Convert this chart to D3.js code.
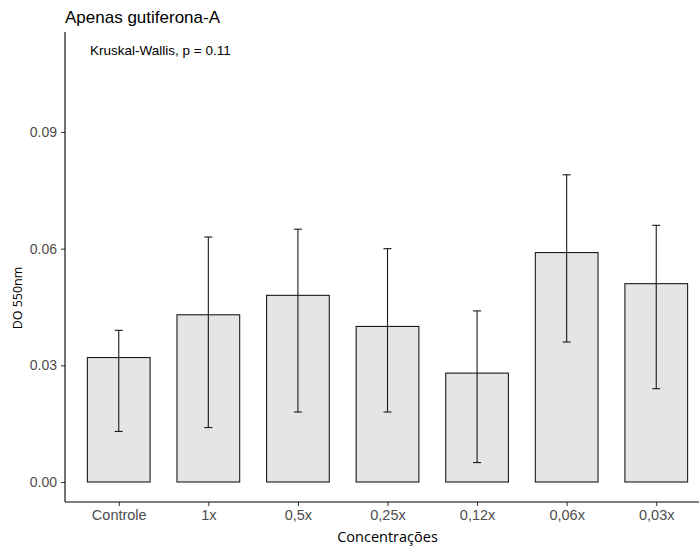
<!DOCTYPE html>
<html>
<head>
<meta charset="utf-8">
<script src="https://cdn.jsdelivr.net/npm/d3@7/dist/d3.min.js"></script>
<style>
  html, body { margin: 0; padding: 0; background: #ffffff; }
  svg { display: block; font-family: "Liberation Sans", Arial, sans-serif; }
</style>
</head>
<body>
<svg id="chart" width="699" height="548"></svg>
<script>
const categories = ["Controle", "1x", "0,5x", "0,25x", "0,12x", "0,06x", "0,03x"];
const means = [0.032, 0.043, 0.048, 0.040, 0.028, 0.059, 0.051];
const lower = [0.013, 0.014, 0.018, 0.018, 0.005, 0.036, 0.024];
const upper = [0.039, 0.063, 0.065, 0.060, 0.044, 0.079, 0.066];
const yTicks = [0, 0.03, 0.06, 0.09];
const titleText = "Apenas gutiferona-A";
const testText = "Kruskal-Wallis, p = 0.11";
const xTitle = "Concentrações";
const yTitle = "DO 550nm";

const svg = d3.select("#chart");
const panel = { left: 65, right: 710, top: 32, bottom: 502 };

const x = d3.scalePoint().domain(categories).range([panel.left, panel.right]).padding(0.6);
const y = d3.scaleLinear().domain([0, 0.09]).range([482, 132]);
const barW = x.step() * 0.7;
const capW = 8;

const data = categories.map((c, i) => ({ c, m: means[i], lo: lower[i], hi: upper[i] }));

// bars
svg.append("g").selectAll("rect").data(data).join("rect")
  .attr("x", d => x(d.c) - barW / 2)
  .attr("y", d => y(d.m))
  .attr("width", barW)
  .attr("height", d => y(0) - y(d.m))
  .attr("fill", "#e5e5e5")
  .attr("stroke", "#1a1a1a")
  .attr("stroke-width", 1.1);

// error bars
const eb = svg.append("g").attr("stroke", "#1a1a1a").attr("stroke-width", 1.1);
eb.selectAll("line.v").data(data).join("line").attr("class", "v")
  .attr("x1", d => x(d.c)).attr("x2", d => x(d.c))
  .attr("y1", d => y(d.lo)).attr("y2", d => y(d.hi));
eb.selectAll("line.t").data(data).join("line").attr("class", "t")
  .attr("x1", d => x(d.c) - capW / 2).attr("x2", d => x(d.c) + capW / 2)
  .attr("y1", d => y(d.hi)).attr("y2", d => y(d.hi));
eb.selectAll("line.b").data(data).join("line").attr("class", "b")
  .attr("x1", d => x(d.c) - capW / 2).attr("x2", d => x(d.c) + capW / 2)
  .attr("y1", d => y(d.lo)).attr("y2", d => y(d.lo));

// y axis
const yAxis = d3.axisLeft(y).tickValues(yTicks).tickFormat(d3.format(".2f")).tickSize(4).tickPadding(4);
const gy = svg.append("g").attr("transform", `translate(${panel.left},0)`).call(yAxis);
gy.select(".domain").remove();
gy.selectAll(".tick line").attr("stroke", "#333333");
gy.selectAll(".tick text").attr("fill", "#4d4d4d").attr("font-size", 14)
  .attr("font-family", "'Liberation Sans', Arial, sans-serif");
svg.append("line").attr("x1", panel.left).attr("x2", panel.left)
  .attr("y1", panel.top).attr("y2", panel.bottom).attr("stroke", "#000").attr("stroke-width", 1.1);

// x axis
const xAxis = d3.axisBottom(x).tickSize(4).tickPadding(4);
const gx = svg.append("g").attr("transform", `translate(0,${panel.bottom})`).call(xAxis);
gx.select(".domain").remove();
gx.selectAll(".tick line").attr("stroke", "#333333");
gx.selectAll(".tick text").attr("fill", "#4d4d4d").attr("font-size", 14.5)
  .attr("font-family", "'Liberation Sans', Arial, sans-serif");
svg.append("line").attr("x1", panel.left).attr("x2", panel.right)
  .attr("y1", panel.bottom).attr("y2", panel.bottom).attr("stroke", "#000").attr("stroke-width", 1.1);

// titles
svg.append("text").attr("x", 65).attr("y", 23).attr("font-size", 17).attr("fill", "#000")
  .text(titleText);
svg.append("text").attr("x", 90).attr("y", 55).attr("font-size", 13.5).attr("fill", "#000")
  .text(testText);
svg.append("text").attr("x", (panel.left + panel.right) / 2).attr("y", 542)
  .attr("text-anchor", "middle").attr("font-size", 14.5).attr("fill", "#000")
  .attr("font-family", "'Open Sans', sans-serif")
  .text(xTitle);
svg.append("text").attr("transform", "translate(22,298) rotate(-90)")
  .attr("text-anchor", "middle").attr("font-size", 12.5).attr("fill", "#000")
  .attr("font-family", "'Open Sans', sans-serif")
  .text(yTitle);
</script>
</body>
</html>
